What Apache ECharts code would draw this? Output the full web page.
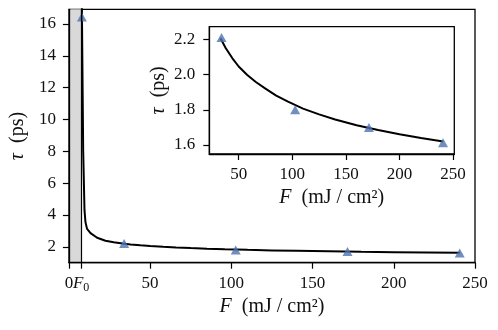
<!DOCTYPE html>
<html>
<head>
<meta charset="utf-8">
<script src="https://cdn.jsdelivr.net/npm/echarts@6/dist/echarts.min.js"></script>
<style>
  html, body { margin: 0; padding: 0; background: #fff; }
  #chart { width: 498px; height: 330px; }
</style>
</head>
<body>
<div id="chart"></div>
<script>
// threshold fluence
const F0 = 7.5;

// measured points (mJ/cm2, ps)
const measF = [8.0, 34.0, 102.7, 171.5, 240.6];
const measTau = [16.44, 2.21, 1.80, 1.70, 1.613];

// fitted curve
const fitF = [7.95, 8.8, 9.6, 10.2, 11.2, 13.3, 17.4, 22.5, 27.6, 33, 38, 44, 50, 58, 66, 75, 85, 96, 110, 125, 140, 160, 180, 200, 220, 240.7];
const fitTau = [17.5, 8.0, 4.3, 3.55, 3.12, 2.86, 2.57, 2.38, 2.28, 2.206, 2.150, 2.094, 2.046, 1.998, 1.958, 1.920, 1.881, 1.846, 1.807, 1.774, 1.745, 1.712, 1.685, 1.661, 1.640, 1.620];

// tick labels
const mainXTicks = [0, F0, 50, 100, 150, 200, 250];
const mainXLabels = [0, 50, 100, 150, 200, 250];
const mainYTicks = [2, 4, 6, 8, 10, 12, 14, 16];
const insetXTicks = [50, 100, 150, 200, 250];
const insetYTicks = [1.6, 1.8, 2.0, 2.2];

const serif = "Liberation Serif";
const txt = "#111";

const pairs = (xs, ys) => xs.map((x, i) => [x, ys[i]]);
const fitAll = pairs(fitF, fitTau);
const fitInset = fitAll.filter(p => p[0] >= 32);
const measAll = pairs(measF, measTau);
const measInset = measAll.slice(1);

const tickLabel = { fontFamily: serif, fontSize: 17, color: txt, hideOverlap: false, showMinLabel: true, showMaxLabel: true };
const nameStyle = {
  fontFamily: serif, fontSize: 20, color: txt,
  rich: { it: { fontFamily: serif, fontStyle: "italic", fontSize: 20, color: txt } }
};
const xName = "{it|F}  (mJ / cm²)";
const yName = "{it|τ}  (ps)";

function valueAxis(gridIndex, min, max, ticks, margin, extra) {
  return Object.assign({
    type: "value",
    gridIndex: gridIndex,
    min: min,
    max: max,
    splitLine: { show: false },
    axisLine: { show: true, onZero: false, lineStyle: { color: "#000", width: 1.3 } },
    axisTick: { show: true, inside: false, length: 6, lineStyle: { color: "#000", width: 1.2 }, customValues: ticks },
    axisLabel: Object.assign({}, tickLabel, { customValues: ticks, margin: margin }),
    z: 5
  }, extra || {});
}

const chart = echarts.init(document.getElementById("chart"), null, { renderer: "canvas" });

chart.setOption({
  animation: false,
  backgroundColor: "#fff",
  grid: [
    { left: 67, top: 9.3, right: 23, bottom: 67.3, show: true, borderColor: "#000", borderWidth: 1.3, backgroundColor: "transparent" },
    { left: 209.3, top: 26.7, width: 245, height: 127.3, show: true, borderColor: "#000", borderWidth: 1.3, backgroundColor: "#fff", z: 3 }
  ],
  xAxis: [
    valueAxis(0, 0, 250, mainXTicks, 12, {
      name: xName,
      nameLocation: "middle",
      nameGap: 32,
      nameTextStyle: nameStyle,
      axisLabel: Object.assign({}, tickLabel, { customValues: mainXLabels, margin: 12 })
    }),
    valueAxis(1, 22.6, 251.1, insetXTicks, 12, {
      name: xName,
      nameLocation: "middle",
      nameGap: 34,
      nameTextStyle: nameStyle,
      z: 6
    })
  ],
  yAxis: [
    valueAxis(0, 1, 16.92, mainYTicks, 13, {
      name: yName,
      nameLocation: "middle",
      nameGap: 37,
      nameTextStyle: nameStyle
    }),
    valueAxis(1, 1.549, 2.272, insetYTicks, 14, {
      name: yName,
      nameLocation: "middle",
      nameGap: 41,
      nameTextStyle: nameStyle,
      axisLabel: Object.assign({}, tickLabel, { customValues: insetYTicks, margin: 14, formatter: v => v.toFixed(1) }),
      z: 6
    })
  ],
  series: [
    {
      type: "line",
      xAxisIndex: 0,
      yAxisIndex: 0,
      data: fitAll,
      showSymbol: false,
      smooth: false,
      clip: true,
      lineStyle: { color: "#000", width: 2 },
      z: 2,
      markArea: {
        silent: true,
        itemStyle: { color: "#d9d9d9" },
        data: [[{ xAxis: 0 }, { xAxis: F0 }]]
      },
      markLine: {
        silent: true,
        symbol: "none",
        lineStyle: { color: "#000", width: 1.2, type: "solid" },
        label: {
          show: true,
          position: "start",
          distance: 10,
          formatter: "{it|F}{sub|0}",
          rich: {
            it: { fontFamily: serif, fontStyle: "italic", fontSize: 17, color: txt },
            sub: { fontFamily: serif, fontSize: 12, color: txt, padding: [9, 0, 0, 0] }
          }
        },
        data: [{ xAxis: F0 }]
      }
    },
    {
      type: "scatter",
      xAxisIndex: 0,
      yAxisIndex: 0,
      data: measAll,
      symbol: "triangle",
      symbolSize: [10, 9],
      itemStyle: { color: "#4C72B0" },
      z: 4
    },
    {
      type: "line",
      xAxisIndex: 1,
      yAxisIndex: 1,
      data: fitInset,
      showSymbol: false,
      smooth: false,
      lineStyle: { color: "#000", width: 2 },
      z: 7
    },
    {
      type: "scatter",
      xAxisIndex: 1,
      yAxisIndex: 1,
      data: measInset,
      symbol: "triangle",
      symbolSize: [10, 9],
      itemStyle: { color: "#4C72B0" },
      z: 8
    }
  ]
});
</script>
</body>
</html>
